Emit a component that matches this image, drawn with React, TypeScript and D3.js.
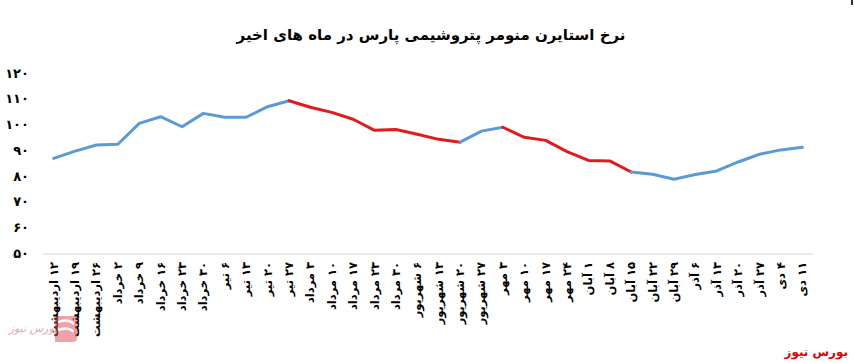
import React, { useRef, useEffect } from "react";
import * as d3 from "d3";

const labels = [
  "۱۲ اردیبهشت", "۱۹ اردیبهشت", "۲۶ اردیبهشت",
  "۲ خرداد", "۹ خرداد", "۱۶ خرداد", "۲۳ خرداد", "۳۰ خرداد",
  "۶ تیر", "۱۳ تیر", "۲۰ تیر", "۲۷ تیر",
  "۳ مرداد", "۱۰ مرداد", "۱۷ مرداد", "۲۳ مرداد", "۳۰ مرداد",
  "۶ شهریور", "۱۳ شهریور", "۲۰ شهریور", "۲۷ شهریور",
  "۳ مهر", "۱۰ مهر", "۱۷ مهر", "۲۴ مهر",
  "۱ آبان", "۸ آبان", "۱۵ آبان", "۲۲ آبان", "۲۹ آبان",
  "۶ آذر", "۱۳ آذر", "۲۰ آذر", "۲۷ آذر",
  "۴ دی", "۱۱ دی",
];

const prices = [
  86.8, 89.6, 92.0, 92.3, 100.4, 103.0, 99.1, 104.3, 102.8, 102.8,
  106.9, 109.2, 106.7, 104.7, 102.0, 97.7, 98.0, 96.2, 94.2, 93.1,
  97.4, 98.9, 95.0, 93.8, 89.4, 86.0, 85.8, 81.5, 80.6, 78.7,
  80.5, 81.9, 85.4, 88.4, 90.1, 91.1,
];

// falling stretches drawn in red: [from index, to index]
const redRanges = [[11, 19], [21, 27]];

const yTicks = [50, 60, 70, 80, 90, 100, 110, 120];

const title = "نرخ استایرن منومر پتروشیمی پارس در ماه های اخیر";
const source = "بورس نیوز";

const faDigits = "۰۱۲۳۴۵۶۷۸۹";
const toFa = (n: number) => String(n).replace(/\d/g, (d) => faDigits[+d]);

const BLUE = "#5b9bd5";
const RED = "#e31a1c";
const FONT = "'DejaVu Sans', sans-serif";

export default function App() {
  const ref = useRef<SVGSVGElement>(null);

  useEffect(() => {
    if (!ref.current) return;
    const svg = d3.select(ref.current);
    svg.selectAll("*").remove();

    const left = 43, right = 813, top = 73, bottom = 253;

    const x = d3.scaleBand<number>()
      .domain(d3.range(prices.length))
      .range([left, right]);
    const cx = (i: number) => (x(i) as number) + x.bandwidth() / 2;

    const y = d3.scaleLinear().domain([50, 120]).range([bottom, top]);

    // title
    svg.append("text")
      .attr("x", 431).attr("y", 40)
      .attr("text-anchor", "middle")
      .attr("font-family", FONT)
      .attr("font-weight", "bold")
      .attr("font-size", 15)
      .attr("direction", "rtl")
      .style("unicode-bidi", "embed")
      .text(title);

    // baseline
    svg.append("line")
      .attr("x1", left).attr("x2", right)
      .attr("y1", y(50) + 1).attr("y2", y(50) + 1)
      .attr("stroke", "#d9d9d9").attr("stroke-width", 1);

    // y labels
    const yAxis = svg.append("g")
      .attr("transform", `translate(29,0)`)
      .call(d3.axisLeft(y).tickValues(yTicks).tickSize(0).tickPadding(0)
        .tickFormat((d) => toFa(d as number)));
    yAxis.select(".domain").remove();
    yAxis.selectAll("text")
      .attr("font-family", FONT)
      .attr("font-weight", "bold")
      .attr("font-size", 13)
      .attr("fill", "#000");

    // x labels, rotated so the day number sits on top
    svg.append("g")
      .selectAll("text")
      .data(labels)
      .join("text")
      .attr("transform", (_, i) => `translate(${cx(i) + 4},262) rotate(-90)`)
      .attr("direction", "rtl")
      .style("unicode-bidi", "embed")
      .attr("text-anchor", "start")
      .attr("font-family", FONT)
      .attr("font-weight", "bold")
      .attr("font-size", 11.5)
      .text((d) => d);

    // line, split into coloured segments
    const line = d3.line<number>()
      .x((i) => cx(i))
      .y((i) => y(prices[i]));

    const isRed = (i: number) => redRanges.some(([a, b]) => i >= a && i < b);
    const segs: { idx: number[]; red: boolean }[] = [];
    for (let i = 0; i < prices.length - 1; i++) {
      const red = isRed(i);
      const last = segs[segs.length - 1];
      if (last && last.red === red) last.idx.push(i + 1);
      else segs.push({ idx: [i, i + 1], red });
    }
    svg.append("g")
      .selectAll("path")
      .data(segs)
      .join("path")
      .attr("d", (s) => line(s.idx))
      .attr("fill", "none")
      .attr("stroke", (s) => (s.red ? RED : BLUE))
      .attr("stroke-width", 3)
      .attr("stroke-linejoin", "round")
      .attr("stroke-linecap", "round");

    // faint watermark logo bottom-left
    const logo = svg.append("g").attr("opacity", 0.5);
    logo.append("path")
      .attr("d", "M55,316 h18 a4,4 0 0 1 4,4 v18 a4,4 0 0 1 -4,4 h-18 z")
      .attr("fill", "#e04a55");
    logo.append("path")
      .attr("d", "M58,322 q10,-4 16,2 M58,330 q10,-4 16,2")
      .attr("stroke", "#fff").attr("stroke-width", 2.5).attr("fill", "none");
    logo.append("text")
      .attr("x", 33).attr("y", 332)
      .attr("text-anchor", "middle")
      .attr("font-family", FONT)
      .attr("font-size", 11)
      .attr("font-style", "italic")
      .attr("fill", "#e04a55")
      .attr("direction", "rtl")
      .style("unicode-bidi", "embed")
      .text(source);

    // source bottom-right
    svg.append("text")
      .attr("x", 848).attr("y", 356)
      .attr("direction", "rtl")
      .style("unicode-bidi", "embed")
      .attr("text-anchor", "start")
      .attr("font-family", FONT)
      .attr("font-weight", "bold")
      .attr("font-size", 12)
      .attr("fill", "#e00000")
      .text(source);

    svg.append("rect")
      .attr("x", 851).attr("y", 0).attr("width", 2).attr("height", 5)
      .attr("fill", "#333");
  }, []);

  return (
    <svg
      ref={ref}
      width={854}
      height={363}
      style={{ position: "absolute", left: 0, top: 0, background: "#fff" }}
    />
  );
}
